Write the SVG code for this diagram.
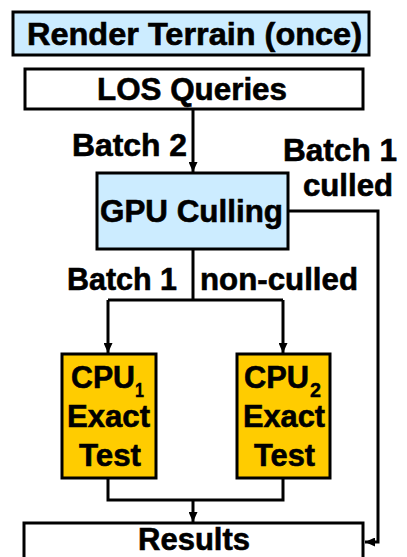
<svg xmlns="http://www.w3.org/2000/svg" width="407" height="557" viewBox="0 0 407 557">
<style>
.t{font-family:"Liberation Sans",Arial,sans-serif;font-weight:bold;font-size:31px;fill:#000;stroke:#000;stroke-width:0.6}
.s{font-family:"Liberation Sans",Arial,sans-serif;font-weight:bold;font-size:20px;fill:#000;stroke:#000;stroke-width:0.4}
.blue{fill:#CCECFF;stroke:#000;stroke-width:3}
.white{fill:#fff;stroke:#000;stroke-width:3}
.gold{fill:#FFCC00;stroke:#000;stroke-width:3}
.c{fill:none;stroke:#000;stroke-width:3}
</style>
<defs>
<marker id="ah" markerUnits="userSpaceOnUse" markerWidth="10" markerHeight="9" refX="10" refY="4.5" orient="auto">
<path d="M0,0 L10,4.5 L0,9 z" fill="#000"/>
</marker>
</defs>
<rect width="407" height="557" fill="#fff"/>
<g id="connectors">
<path class="c" d="M193,110 V172" marker-end="url(#ah)"/>
<path class="c" d="M193,249 V300"/>
<path class="c" d="M108,300 H283"/>
<path class="c" d="M108,300 V353" marker-end="url(#ah)"/>
<path class="c" d="M283,300 V353" marker-end="url(#ah)"/>
<path class="c" d="M108,478 V500 H283 V478"/>
<path class="c" d="M193,500 V522" marker-end="url(#ah)"/>
<path class="c" d="M288,211 H378 V542 H365" marker-end="url(#ah)"/>
<text class="t" x="72" y="156" textLength="115" lengthAdjust="spacingAndGlyphs">Batch 2</text>
<text class="t" x="283" y="161" textLength="114" lengthAdjust="spacingAndGlyphs">Batch 1</text>
<text class="t" x="303" y="196" textLength="90" lengthAdjust="spacingAndGlyphs">culled</text>
<text class="t" x="67" y="290" textLength="110" lengthAdjust="spacingAndGlyphs">Batch 1</text>
<text class="t" x="200" y="290" textLength="158" lengthAdjust="spacingAndGlyphs">non-culled</text>
</g>
<g id="render">
<rect class="blue" x="13" y="12" width="356" height="43"/>
<text class="t" x="27" y="45" textLength="335" lengthAdjust="spacingAndGlyphs">Render Terrain (once)</text>
</g>
<g id="los">
<rect class="white" x="25" y="69" width="338" height="40"/>
<text class="t" x="97" y="100" textLength="190" lengthAdjust="spacingAndGlyphs">LOS Queries</text>
</g>
<g id="gpu">
<rect class="blue" x="97" y="173" width="191" height="76"/>
<text class="t" x="100" y="222" textLength="183" lengthAdjust="spacingAndGlyphs">GPU Culling</text>
</g>
<g id="cpu1">
<rect class="gold" x="62" y="354" width="94" height="124"/>
<text class="t" x="71" y="388" textLength="64" lengthAdjust="spacingAndGlyphs">CPU</text>
<text class="s" x="135" y="397" textLength="9" lengthAdjust="spacingAndGlyphs">1</text>
<text class="t" x="67" y="427" textLength="83" lengthAdjust="spacingAndGlyphs">Exact</text>
<text class="t" x="79" y="466" textLength="62" lengthAdjust="spacingAndGlyphs">Test</text>
</g>
<g id="cpu2">
<rect class="gold" x="237" y="354" width="93" height="124"/>
<text class="t" x="244" y="388" textLength="65" lengthAdjust="spacingAndGlyphs">CPU</text>
<text class="s" x="310" y="397" textLength="11" lengthAdjust="spacingAndGlyphs">2</text>
<text class="t" x="243" y="427" textLength="82" lengthAdjust="spacingAndGlyphs">Exact</text>
<text class="t" x="254" y="466" textLength="61" lengthAdjust="spacingAndGlyphs">Test</text>
</g>
<g id="results">
<rect class="white" x="24" y="523" width="339" height="50"/>
<text class="t" x="138" y="550" textLength="112" lengthAdjust="spacingAndGlyphs">Results</text>
</g>
</svg>
